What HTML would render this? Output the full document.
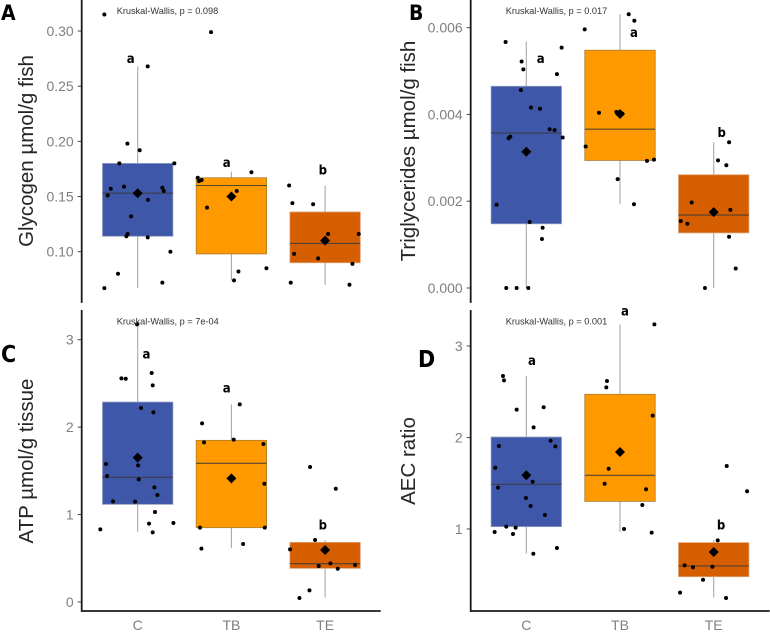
<!DOCTYPE html>
<html lang="en">
<head>
<meta charset="utf-8">
<title>Energy metabolites by treatment</title>
<style>
html,body{margin:0;padding:0;background:#fff;}
svg{display:block;filter:blur(0.3px);}
text{font-family:"Liberation Sans",sans-serif;}
.tag{font-family:"DejaVu Sans","Liberation Sans",sans-serif;font-weight:bold;font-stretch:condensed;}
</style>
</head>
<body>
<svg id="figure" xmlns="http://www.w3.org/2000/svg" width="770" height="632" viewBox="0 0 770 632"></svg>
<script>
const categories = ['C', 'TB', 'TE'];
const fills = ['#3F57A8', '#FE9900', '#D55E00'];
const strokes = ['#8f9bc6', '#a87c30', '#e0a070'];

/* Panel A */
const aTicks = [0.10, 0.15, 0.20, 0.25, 0.30];
const aTickLabels = ['0.10', '0.15', '0.20', '0.25', '0.30'];
const aQ1 = [0.114, 0.098, 0.090];
const aMedian = [0.153, 0.160, 0.1075];
const aQ3 = [0.180, 0.167, 0.136];
const aLow = [0.067, 0.074, 0.070];
const aHigh = [0.268, 0.1725, 0.160];
const aMean = [0.153, 0.150, 0.110];
const aLetters = ['a', 'a', 'b'];
const aLetterY = [0.275, 0.181, 0.174];
const aLetterShift = [-0.075, -0.05, -0.025];
const aValuesC = [0.315, 0.268, 0.198, 0.192, 0.180, 0.180, 0.159, 0.157, 0.158, 0.155, 0.151, 0.147, 0.132, 0.116, 0.114, 0.113, 0.100, 0.080, 0.072, 0.067];
const aJitterC = [-0.356, 0.107, -0.11, 0.021, -0.196, 0.391, -0.146, -0.288, 0.263, 0.278, -0.32, 0.11, -0.071, -0.107, -0.121, 0.107, 0.349, -0.21, 0.263, -0.356];
const aValuesTB = [0.299, 0.172, 0.167, 0.165, 0.164, 0.155, 0.140, 0.082, 0.085, 0.074];
const aJitterTB = [-0.217, 0.214, -0.359, -0.317, -0.345, 0.057, -0.26, 0.075, 0.374, 0.028];
const aValuesTE = [0.160, 0.144, 0.143, 0.116, 0.116, 0.098, 0.094, 0.089, 0.072, 0.070];
const aJitterTE = [-0.384, -0.349, -0.128, 0.032, 0.359, -0.331, -0.075, 0.292, -0.367, 0.26];

/* Panel B */
const bTicks = [0, 0.002, 0.004, 0.006];
const bTickLabels = ['0.000', '0.002', '0.004', '0.006'];
const bQ1 = [0.00148, 0.00294, 0.00127];
const bMedian = [0.00357, 0.00366, 0.00168];
const bQ3 = [0.00465, 0.00548, 0.00261];
const bLow = [0, 0.00194, 0];
const bHigh = [0.00568, 0.00631, 0.00336];
const bMean = [0.00314, 0.00401, 0.00175];
const bLetters = ['a', 'a', 'b'];
const bLetterY = [0.00529, 0.00589, 0.00359];
const bLetterShift = [0.153, 0.149, 0.085];
const bValuesC = [0.00567, 0.00522, 0.00504, 0.00554, 0.00493, 0.00456, 0.00416, 0.00413, 0.00366, 0.00364, 0.00347, 0.00349, 0.00345, 0.00192, 0.00152, 0.00139, 0.00113, 0, 0, 0];
const bJitterC = [-0.221, -0.05, -0.032, 0.377, 0.327, -0.057, 0.05, 0.146, 0.249, 0.302, 0.388, -0.171, -0.189, -0.317, 0.036, 0.174, 0.167, -0.214, -0.103, 0.021];
const bValuesTB = [0.00631, 0.00616, 0.00596, 0.00404, 0.00406, 0.00402, 0.00326, 0.00293, 0.00296, 0.00251, 0.00193];
const bJitterTB = [0.093, 0.153, -0.377, -0.224, -0.039, 0.025, -0.367, 0.288, 0.363, -0.025, 0.149];
const bValuesTE = [0.00336, 0.00294, 0.00283, 0.00197, 0.0018, 0.00154, 0.00148, 0.00118, 0.00045, 0];
const bJitterTE = [0.164, 0.046, 0.135, -0.235, 0.178, -0.352, -0.281, 0.164, 0.235, -0.093];

/* Panel C */
const cTicks = [0, 1, 2, 3];
const cTickLabels = ['0', '1', '2', '3'];
const cQ1 = [1.117, 0.85, 0.385];
const cMedian = [1.426, 1.586, 0.438];
const cQ3 = [2.287, 1.849, 0.682];
const cLow = [0.80, 0.618, 0.053];
const cHigh = [3.176, 2.261, 0.709];
const cMean = [1.651, 1.414, 0.595];
const cLetters = ['a', 'a', 'b'];
const cLetterY = [2.84, 2.451, 0.881];
const cLetterShift = [0.093, -0.05, -0.025];
const cValuesC = [3.176, 2.558, 2.554, 2.619, 2.478, 2.219, 2.169, 1.578, 1.563, 1.441, 1.403, 1.311, 1.224, 1.151, 1.148, 1.029, 0.896, 0.904, 0.831, 0.797];
const cJitterC = [-0.007, -0.174, -0.128, 0.149, 0.16, 0.036, 0.167, -0.338, 0.004, -0.327, 0.011, 0.178, 0.21, -0.263, -0.028, 0.185, 0.121, 0.381, -0.399, 0.16];
const cValuesTB = [2.261, 2.043, 1.857, 1.826, 1.807, 1.353, 0.85, 0.85, 0.663, 0.61];
const cJitterTB = [0.089, -0.313, 0.025, -0.292, 0.342, 0.352, -0.335, 0.356, 0.125, -0.32];
const cValuesTE = [1.544, 1.296, 0.709, 0.602, 0.442, 0.423, 0.412, 0.381, 0.133, 0.046];
const cJitterTE = [-0.16, 0.114, -0.107, -0.374, 0.057, 0.32, -0.068, 0.135, -0.167, -0.274];

/* Panel D */
const dTicks = [1, 2, 3];
const dTickLabels = ['1', '2', '3'];
const dQ1 = [1.026, 1.302, 0.479];
const dMedian = [1.488, 1.587, 0.596];
const dQ3 = [2.005, 2.472, 0.851];
const dLow = [0.734, 0.967, 0.25];
const dHigh = [2.672, 3.237, 0.88];
const dMean = [1.587, 1.842, 0.749];
const dLetters = ['a', 'a', 'b'];
const dLetterY = [2.843, 3.382, 1.044];
const dLetterShift = [0.06, 0.053, 0.078];
const dValuesC = [2.672, 2.625, 2.304, 2.33, 2.111, 1.965, 1.907, 1.903, 1.67, 1.517, 1.452, 1.339, 1.251, 1.153, 1.026, 1.015, 0.967, 0.945, 0.792, 0.73];
const dJitterC = [-0.249, -0.238, -0.103, 0.185, 0.078, 0.26, -0.292, 0.31, -0.331, 0.068, -0.302, -0.004, 0.046, 0.199, -0.214, -0.114, -0.338, -0.142, 0.327, 0.075];
const dValuesTB = [3.237, 2.617, 2.548, 2.239, 1.659, 1.495, 1.434, 1.262, 1.0, 0.96];
const dJitterTB = [0.367, -0.139, -0.146, 0.349, -0.121, -0.164, 0.278, 0.238, 0.043, 0.338];
const dValuesTE = [1.689, 1.412, 0.876, 0.603, 0.581, 0.588, 0.446, 0.304, 0.246];
const dJitterTE = [0.139, 0.356, 0.043, -0.31, -0.221, -0.014, -0.114, -0.359, 0.132];

const panels = [
  {id:'a', tag:'A', tagX:1, tagY:20, tagSize:21, title:'Glycogen µmol/g fish', titleX:33, titleY:151, stat:'Kruskal-Wallis, p = 0.098',
   statX:116.7, statY:14, axisX:81.7, axisTop:0, axisBottom:302, xAxis:false, first:137.7, vA:0.10, pA:251.7, scale:1103.3,
   ticks:aTicks, tickLabels:aTickLabels, q1:aQ1, med:aMedian, q3:aQ3, low:aLow, high:aHigh, mean:aMean,
   letters:aLetters, letterY:aLetterY, letterShift:aLetterShift,
   values:[aValuesC, aValuesTB, aValuesTE], jitter:[aJitterC, aJitterTB, aJitterTE]},
  {id:'b', tag:'B', tagX:409, tagY:20, tagSize:21, title:'Triglycerides µmol/g fish', titleX:415, titleY:151, stat:'Kruskal-Wallis, p = 0.017',
   statX:505.7, statY:14, axisX:470.7, axisTop:0, axisBottom:302, xAxis:false, first:526.3, vA:0, pA:288, scale:43389,
   ticks:bTicks, tickLabels:bTickLabels, q1:bQ1, med:bMedian, q3:bQ3, low:bLow, high:bHigh, mean:bMean,
   letters:bLetters, letterY:bLetterY, letterShift:bLetterShift,
   values:[bValuesC, bValuesTB, bValuesTE], jitter:[bJitterC, bJitterTB, bJitterTE]},
  {id:'c', tag:'C', tagX:1, tagY:362, tagSize:23, title:'ATP µmol/g tissue', titleX:33, titleY:461, stat:'Kruskal-Wallis, p = 7e-04',
   statX:116.7, statY:324.5, axisX:81.7, axisTop:310, axisBottom:611, xAxis:true, first:137.7, vA:0, pA:602, scale:87.43,
   ticks:cTicks, tickLabels:cTickLabels, q1:cQ1, med:cMedian, q3:cQ3, low:cLow, high:cHigh, mean:cMean,
   letters:cLetters, letterY:cLetterY, letterShift:cLetterShift,
   values:[cValuesC, cValuesTB, cValuesTE], jitter:[cJitterC, cJitterTB, cJitterTE]},
  {id:'d', tag:'D', tagX:418, tagY:367, tagSize:23, title:'AEC ratio', titleX:415, titleY:461, stat:'Kruskal-Wallis, p = 0.001',
   statX:505.7, statY:324.5, axisX:470.7, axisTop:310, axisBottom:611, xAxis:true, first:526.3, vA:1, pA:529, scale:91.5,
   ticks:dTicks, tickLabels:dTickLabels, q1:dQ1, med:dMedian, q3:dQ3, low:dLow, high:dHigh, mean:dMean,
   letters:dLetters, letterY:dLetterY, letterShift:dLetterShift,
   values:[dValuesC, dValuesTB, dValuesTE], jitter:[dJitterC, dJitterTB, dJitterTE]}
];

const NS = 'http://www.w3.org/2000/svg';
const figure = document.getElementById('figure');
const STEP = 93.7;
const HALF_BOX = 35.2;

function make(parent, tag, props) {
  const el = document.createElementNS(NS, tag);
  Object.keys(props).forEach(function (k) { el.setAttribute(k, props[k]); });
  parent.appendChild(el);
  return el;
}

panels.forEach(function (p) {
  const yScale = function (v) { return p.pA - (v - p.vA) * p.scale; };
  const xScale = function (pos) { return p.first + pos * STEP; };

  const g = make(figure, 'g', {});
  
  

  categories.forEach(function (cat, i) {
    const cx = xScale(i);
    const whisker = make(g, 'line', {x1:cx, x2:cx, y1:yScale(p.low[i]), y2:yScale(p.high[i]), stroke:'#a8a8a8', 'stroke-width':1.1});
    
    

    const box = make(g, 'rect', {x:cx - HALF_BOX, y:yScale(p.q3[i]), width:HALF_BOX * 2, height:yScale(p.q1[i]) - yScale(p.q3[i]), fill:fills[i], stroke:strokes[i], 'stroke-width':0.8});
    
    

    const median = make(g, 'line', {x1:cx - HALF_BOX, x2:cx + HALF_BOX, y1:yScale(p.med[i]), y2:yScale(p.med[i]), stroke:'#3a3a3a', 'stroke-width':1.1, 'stroke-opacity':0.85});
    
    

    p.values[i].forEach(function (v, k) {
      const dot = make(g, 'circle', {cx:xScale(i + p.jitter[i][k]), cy:yScale(v), r:2, fill:'#000'});
      
      
    });

    const my = yScale(p.mean[i]);
    const diamond = make(g, 'path', {d:'M' + cx + ' ' + (my - 5) + 'L' + (cx + 5) + ' ' + my + 'L' + cx + ' ' + (my + 5) + 'L' + (cx - 5) + ' ' + my + 'Z', fill:'#000'});
    
    

    const letter = make(g, 'text', {x:xScale(i + p.letterShift[i]), y:yScale(p.letterY[i]) + 4.6, 'text-anchor':'middle', 'font-size':13, fill:'#000', class:'tag'});
    letter.textContent = p.letters[i];
    
    

    if (p.xAxis) {
      const lab = make(g, 'text', {x:cx, y:630, 'text-anchor':'middle', 'font-size':14, fill:'#7f7f7f'});
      lab.textContent = cat;
      
      
    }
  });

  p.ticks.forEach(function (t, i) {
    const y = yScale(t);
    const tick = make(g, 'line', {x1:p.axisX - 4, x2:p.axisX, y1:y, y2:y, stroke:'#444', 'stroke-width':1});
    
    
    const lab = make(g, 'text', {x:p.axisX - 8, y:y + 5, 'text-anchor':'end', 'font-size':14, fill:'#7f7f7f'});
    lab.textContent = p.tickLabels[i];
    
    
  });

  const yAxis = make(g, 'line', {x1:p.axisX, x2:p.axisX, y1:p.axisTop, y2:p.axisBottom + 0.9, stroke:'#1a1a1a', 'stroke-width':1.8});
  
  

  if (p.xAxis) {
    const xAxis = make(g, 'line', {x1:p.axisX, x2:p.axisX + 299, y1:p.axisBottom, y2:p.axisBottom, stroke:'#1a1a1a', 'stroke-width':1.8});
    
    
  }

  const title = make(g, 'text', {x:p.titleX, y:p.titleY, 'text-anchor':'middle', 'font-size':20.5, fill:'#262626', transform:'rotate(-90 ' + p.titleX + ' ' + p.titleY + ')'});
  title.textContent = p.title;
  
  

  const stat = make(g, 'text', {x:p.statX, y:p.statY, 'font-size':9.2, fill:'#333'});
  stat.textContent = p.stat;
  
  

  const tag = make(g, 'text', {x:p.tagX, y:p.tagY, 'font-size':p.tagSize, fill:'#000', class:'tag'});
  tag.textContent = p.tag;
  
  
});
</script>
</body>
</html>
